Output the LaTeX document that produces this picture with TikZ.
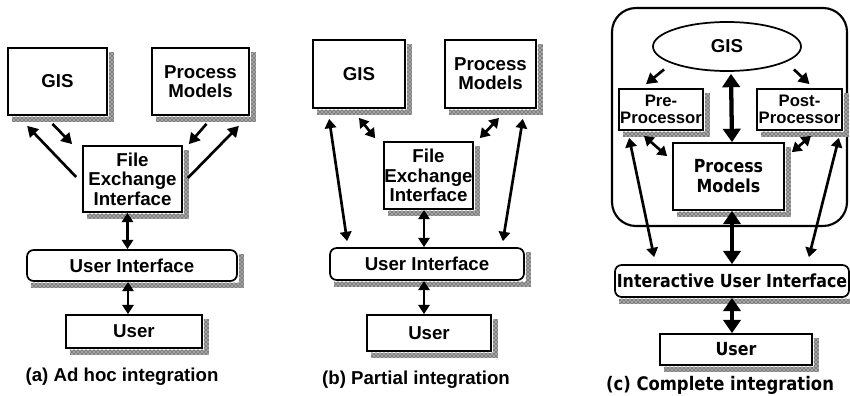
\documentclass[tikz,border=0pt]{standalone}
\usepackage{fontspec}
\setmainfont{Liberation Sans}
\newfontfamily\cfont{DejaVu Sans}[FakeStretch=0.88]
\usetikzlibrary{arrows.meta,shapes.geometric,calc,patterns}

\newcommand{\txta}{\bfseries\fontsize{14}{14.5}\selectfont}
\newcommand{\txtc}{\cfont\bfseries\fontsize{13.5}{15}\selectfont}

\tikzset{
  dim/.style 2 args={minimum width=#1*0.75pt, minimum height=#2*0.75pt},
  box/.style={draw, line width=1.3pt, fill=white, inner sep=0pt, align=center, font=\txta},
  rbox/.style={box, rounded corners=5pt},
  ombra/.style={preaction={fill=black!35}, pattern=crosshatch dots, pattern color=black},
  arr/.style={-{Triangle[length=8pt,width=9pt]}, line width=2pt},
  darr/.style={{Triangle[length=7pt,width=8.5pt]}-{Triangle[length=7pt,width=8.5pt]}, line width=2pt},
  bigarr/.style={{Triangle[length=10pt,width=13pt]}-{Triangle[length=10pt,width=13pt]}, line width=3.2pt},
  didasc/.style={font=\txta, inner sep=0pt}
}

\begin{document}
\begin{tikzpicture}[x=0.75pt,y=-0.75pt]
\useasboundingbox (0,0) rectangle (850,396);

% (a) integrazione ad hoc
\node[box, dim={99}{67}] (gisA) at (57.5,81.5) {GIS};
\node[box, dim={97}{67}] (pmA) at (200.5,81.5) {Process\\Models};
\node[box, dim={99}{66}] (feiA) at (132.5,179) {File\\Exchange\\Interface};
\node[rbox, dim={210}{31}] (uiA) at (132,265.5) {User Interface};
\node[box, dim={136}{33}] (userA) at (134,331.5) {User};
\node[didasc] (capA) at (122,377) {(a) Ad hoc integration};

% (b) integrazione parziale
\node[box, dim={92}{68}] (gisB) at (359,74) {GIS};
\node[box, dim={91}{68}] (pmB) at (490.5,74) {Process\\Models};
\node[box, dim={89}{67}] (feiB) at (428.5,175.5) {File\\Exchange\\Interface};
\node[rbox, dim={194}{32}] (uiB) at (427,264) {User Interface};
\node[box, dim={124}{36}] (userB) at (429,333) {User};
\node[didasc] (capB) at (416,380) {(b) Partial integration};

% (c) integrazione completa
\node[draw, line width=1.6pt, rounded corners=18pt, dim={235}{218}] (grp) at (729.5,117) {};
\node[box, ellipse, dim={148}{49}] (gisC) at (727,46.5) {GIS};
\node[box, dim={84}{41}, font=\bfseries\fontsize{12.5}{13}\selectfont] (preC) at (661,109.5) {Pre-\\Processor};
\node[box, dim={85}{41}, font=\bfseries\fontsize{12.5}{13}\selectfont] (postC) at (799.5,109.5) {Post-\\Processor};
\node[box, dim={111}{67}, font=\txtc] (pmC) at (728.5,176.5) {Process\\Models};
\node[rbox, dim={234}{32}, font=\txtc] (iuiC) at (732,281) {Interactive User Interface};
\node[box, dim={152}{31}, font=\txtc] (userC) at (736,349.5) {User};
\node[didasc, font=\cfont\bfseries\fontsize{14}{15}\selectfont] (capC) at (720,385) {(c) Complete integration};

% ombre a destra e in basso
\foreach \b in {gisA,pmA,feiA,uiA,userA,gisB,pmB,feiB,uiB,userB,preC,postC,pmC,iuiC,userC}{
  \fill[ombra] ($(\b.north east)+(1,5)$) rectangle ($(\b.south east)+(6,6)$);
  \fill[ombra] ($(\b.south west)+(5,1)$) rectangle ($(\b.south east)+(1,6)$);
}

% frecce (a)
\draw[arr] ($(feiA.west)+(-6,-2)$) -- ($(gisA.south west)+(20,10)$);
\draw[arr] ($(gisA.south)+(-5,8)$) -- ($(feiA.north west)+(-10,-1)$);
\draw[arr] ($(pmA.south)+(6,8)$) -- ($(feiA.north east)+(6,-1)$);
\draw[arr] ($(feiA.east)+(5,-1)$) -- ($(pmA.south east)+(-11,10)$);
\draw[darr] ($(feiA.south)+(-5,0)$) -- ($(uiA.north)+(-4.5,0)$);
\draw[darr] ($(uiA.south)+(-4,0)$) -- ($(userA.north)+(-6,0)$);

% frecce (b)
\draw[darr] ($(gisB.south west)+(17,10)$) -- ($(uiB.north west)+(18,-6)$);
\draw[darr] ($(gisB.south)+(0,9)$) -- ($(feiB.north west)+(-8,-3)$);
\draw[darr] ($(pmB.south)+(8.5,9)$) -- ($(feiB.north east)+(6,-3)$);
\draw[darr] ($(pmB.south east)+(-14,10)$) -- ($(uiB.north east)+(-22,-6)$);
\draw[darr] ($(feiB.south)+(-4.5,0)$) -- ($(uiB.north)+(-3,0)$);
\draw[darr] ($(uiB.south)+(-3,0)$) -- ($(userB.north)+(-5,0)$);

% frecce (c)
\draw[arr] ($(gisC.south west)+(-10,5)$) -- ($(preC.north)+(-15,-4)$);
\draw[arr] ($(gisC.south east)+(14,5)$) -- ($(postC.north)+(10,-4)$);
\draw[bigarr] ($(gisC.south)+(4,2)$) -- ($(pmC.north)+(3.5,0)$);
\draw[darr] ($(preC.south)+(-17,5)$) -- ($(pmC.north west)+(-5,14)$);
\draw[darr] ($(postC.south)+(11.5,5)$) -- ($(pmC.north east)+(7,10)$);
\draw[darr] ($(preC.south west)+(11,7)$) -- ($(iuiC.north west)+(40,-7)$);
\draw[darr] ($(postC.south east)+(-4,7)$) -- ($(iuiC.north east)+(-41,-7)$);
\draw[bigarr] ($(pmC.south)+(3.5,0)$) -- (iuiC.north);
\draw[bigarr] (iuiC.south) -- ($(userC.north)+(-4,0)$);
\end{tikzpicture}
\end{document}
